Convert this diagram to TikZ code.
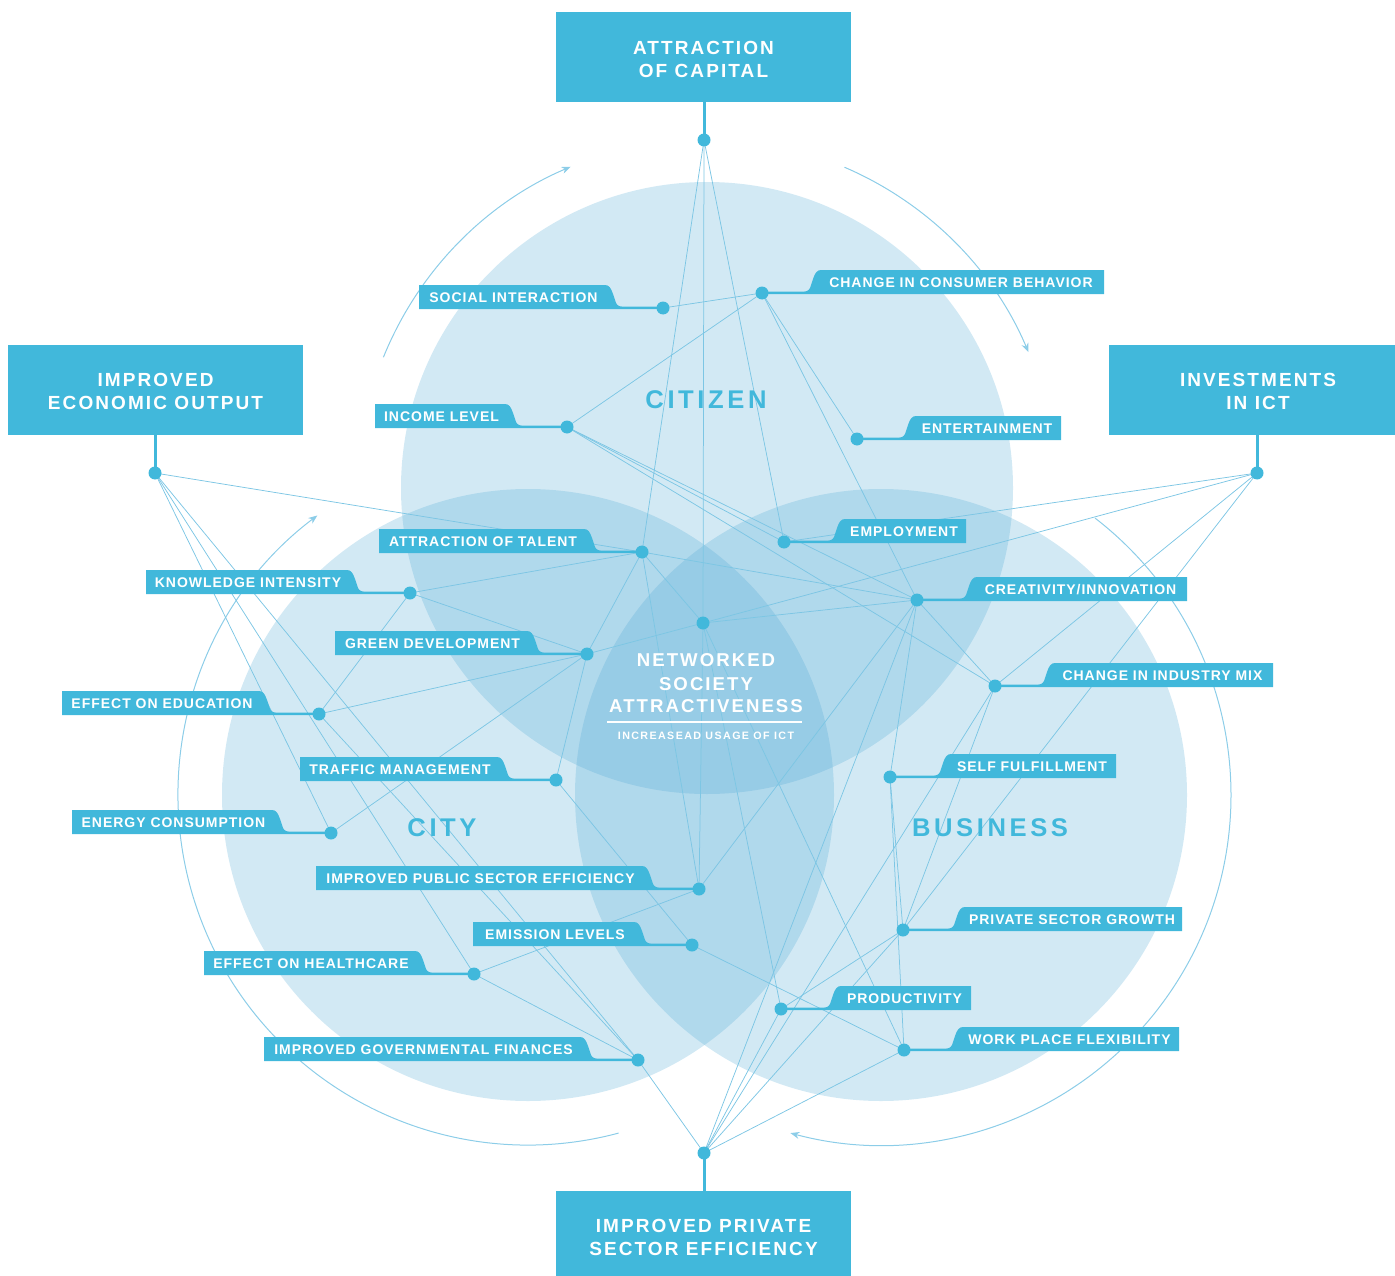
\documentclass[tikz,border=0pt]{standalone}
\usepackage{fontspec}
\setmainfont{Liberation Sans}
\newfontfamily\lblfont[LetterSpace=7]{Liberation Sans}
\newfontfamily\titlefont[LetterSpace=11]{Liberation Sans}
\newfontfamily\circfont[LetterSpace=14]{Liberation Sans}
\newfontfamily\smallfont[LetterSpace=13]{Liberation Sans}
\usetikzlibrary{arrows.meta}
\definecolor{boxblue}{RGB}{65,184,219}
\definecolor{circfill}{RGB}{71,165,210}
\definecolor{linec}{RGB}{125,198,228}
\definecolor{arcc}{RGB}{140,205,232}
\pgfdeclarelayer{back}
\pgfdeclarelayer{mid}
\pgfsetlayers{back,mid,main}
\tikzset{
  dot/.style={circle, fill=boxblue, inner sep=0pt, minimum size=13pt},
  edge/.style={draw=linec, line width=0.75pt},
  hubline/.style={draw=boxblue, line width=3pt},
  bigbox/.style={rectangle, fill=boxblue, inner sep=0pt, minimum width=295pt, minimum height=90pt},
  bigtext/.style={text=white, font=\titlefont\bfseries\fontsize{19}{22.3}\selectfont, align=center, inner sep=0pt},
  lbltext/.style={text=white, font=\lblfont\bfseries\fontsize{14}{16}\selectfont, inner sep=0pt, anchor=base},
  circlbl/.style={text=boxblue, font=\circfont\bfseries\fontsize{25.6}{28}\selectfont, inner sep=0pt, anchor=base},
  ctext/.style={text=white, font=\titlefont\bfseries\fontsize{18.6}{22}\selectfont, inner sep=0pt, anchor=base},
  csmall/.style={text=white, font=\smallfont\bfseries\fontsize{10.7}{12}\selectfont, inner sep=0pt, anchor=base},
  arcline/.style={draw=arcc, line width=1pt, -{Stealth[length=9pt,width=7pt]}},
  circ/.style={fill=circfill, fill opacity=0.244},
}
% left label: name, x1, x2 (slant start), y1, dot x, text
\newcommand\Llab[6]{%
  \fill[boxblue] (#2,#4) -- ({#3-3},#4) .. controls ({#3+1},#4) and ({#3+3},{#4+3}) .. ({#3+5},{#4+9}) -- ({#3+8},{#4+18}) .. controls ({#3+10},{#4+21.6}) and ({#3+12},{#4+21.6}) .. ({#3+17},{#4+21.6}) -- (#5,{#4+21.6}) -- (#5,{#4+24}) -- (#2,{#4+24}) -- cycle;
  \node[lbltext] (#1t) at ({(#2+#3)/2},{#4+17.7}) {#6};
  \node[dot] (#1) at (#5,{#4+23}) {};
}
% right label: name, xs (slant start), xr (right edge), y1, dot x, text
\newcommand\Rlab[6]{%
  \fill[boxblue] (#3,#4) -- ({#2+3},#4) .. controls ({#2-1},#4) and ({#2-3},{#4+3}) .. ({#2-5},{#4+9}) -- ({#2-8},{#4+18}) .. controls ({#2-10},{#4+21.6}) and ({#2-12},{#4+21.6}) .. ({#2-17},{#4+21.6}) -- (#5,{#4+21.6}) -- (#5,{#4+24}) -- (#3,{#4+24}) -- cycle;
  \node[lbltext] (#1t) at ({(#2+#3)/2},{#4+17.7}) {#6};
  \node[dot] (#1) at (#5,{#4+23}) {};
}
\begin{document}
\begin{tikzpicture}[x=1pt,y=-1pt]
\useasboundingbox (0,0) rectangle (1395,1276);
\coordinate (citc) at (707,488);
\coordinate (cityc) at (528,795);
\coordinate (busc) at (881,795);
\begin{pgfonlayer}{back}
  \fill[circ] (citc) circle[radius=306];
  \fill[circ] (cityc) circle[radius=306];
  \fill[circ] (busc) circle[radius=306];
  \draw[arcline] ([shift={(-158:349)}]citc) arc[start angle=-158, end angle=-113, radius=349];
  \draw[arcline] ([shift={(-66.8:349)}]citc) arc[start angle=-66.8, end angle=-22.9, radius=349];
  \draw[arcline] ([shift={(-52.3:350)}]busc) arc[start angle=-52.3, end angle=105, radius=350];
  \draw[arcline] ([shift={(75:350)}]cityc) arc[start angle=75, end angle=233, radius=350];
\end{pgfonlayer}

% big boxes
\node[bigbox] (capital) at (703.5,57) {};
\node[bigtext] (capitalt) at (703.5,59.6) {ATTRACTION\\OF CAPITAL};
\node[bigbox] (economic) at (155.5,390) {};
\node[bigtext] (economict) at (155.5,391.5) {IMPROVED\\ECONOMIC OUTPUT};
\node[bigbox, minimum width=286pt] (ict) at (1252,390) {};
\node[bigtext] (ictt) at (1258,391.5) {INVESTMENTS\\IN ICT};
\node[bigbox] (privbox) at (703.5,1236) {};
\node[bigtext] (privboxt) at (703.5,1237.5) {IMPROVED PRIVATE\\SECTOR EFFICIENCY};

% hub dots
\node[dot] (hT) at (704,140) {};
\node[dot] (hL) at (155,473) {};
\node[dot] (hR) at (1257,473) {};
\node[dot] (hB) at (704,1153) {};
\node[dot] (cen) at (703,623) {};
\draw[hubline] (hT.center) -- (hT |- capital.south);
\draw[hubline] (hL.center) -- (hL |- economic.south);
\draw[hubline] (hR.center) -- (hR |- ict.south);
\draw[hubline] (hB.center) -- (hB |- privbox.north);

% circle titles
\node[circlbl] (citizen) at (706,408.3) {CITIZEN};
\node[circlbl] (city) at (442,836.2) {CITY};
\node[circlbl] (business) at (990,836.2) {BUSINESS};

% centre text
\node[ctext] (n1) at (706,666.7) {NETWORKED};
\node[ctext] (n2) at (706,690) {SOCIETY};
\node[ctext] (n3) at (706,712.7) {ATTRACTIVENESS};
\fill[white] (607,720.6) rectangle (802,722.8);
\node[csmall] (n4) at (706,739.3) {INCREASEAD USAGE OF ICT};

% labels with dot on the right
\Llab{social}{419}{608}{285}{663}{SOCIAL INTERACTION}
\Llab{income}{375}{508}{404}{567}{INCOME LEVEL}
\Llab{talent}{379}{587}{529}{642}{ATTRACTION OF TALENT}
\Llab{knowledge}{146}{350}{570}{410}{KNOWLEDGE INTENSITY}
\Llab{green}{335}{530}{631}{587}{GREEN DEVELOPMENT}
\Llab{education}{62}{262}{691}{319}{EFFECT ON EDUCATION}
\Llab{traffic}{300}{500}{757}{556}{TRAFFIC MANAGEMENT}
\Llab{energy}{72}{275}{810}{331}{ENERGY CONSUMPTION}
\Llab{public}{316}{645}{866}{699}{IMPROVED PUBLIC SECTOR EFFICIENCY}
\Llab{emission}{473}{637}{922}{692}{EMISSION LEVELS}
\Llab{health}{204}{418}{951}{474}{EFFECT ON HEALTHCARE}
\Llab{gov}{264}{583}{1037}{638}{IMPROVED GOVERNMENTAL FINANCES}

% labels with dot on the left
\Rlab{consumer}{818}{1104}{270}{762}{CHANGE IN CONSUMER BEHAVIOR}
\Rlab{entertain}{913}{1061}{416}{857}{ENTERTAINMENT}
\Rlab{employ}{842}{966}{519}{784}{EMPLOYMENT}
\Rlab{creativity}{974}{1187}{577}{917}{CREATIVITY/INNOVATION}
\Rlab{industry}{1052}{1273}{663}{995}{CHANGE IN INDUSTRY MIX}
\Rlab{selff}{948}{1116}{754}{890}{SELF FULFILLMENT}
\Rlab{privg}{962}{1182}{907}{903}{PRIVATE SECTOR GROWTH}
\Rlab{product}{838}{971}{986}{781}{PRODUCTIVITY}
\Rlab{work}{960}{1179}{1027}{904}{WORK PLACE FLEXIBILITY}

\begin{pgfonlayer}{mid}
\foreach \a/\b in {hT/talent, hT/cen, hT/employ,
  hL/talent, hL/energy, hL/health, hL/gov,
  hR/employ, hR/cen, hR/industry, hR/privg,
  hB/gov, hB/creativity, hB/product, hB/industry, hB/privg, hB/work,
  social/consumer, consumer/income, consumer/entertain, consumer/creativity,
  income/employ, income/creativity, income/industry,
  talent/creativity, talent/knowledge, talent/green, talent/cen, talent/public,
  knowledge/green, knowledge/education,
  green/cen, green/education, green/energy, green/traffic,
  education/gov, traffic/emission, emission/work,
  health/public, health/gov,
  public/cen, public/creativity,
  cen/creativity, cen/product, cen/work,
  creativity/industry, creativity/selff,
  industry/privg, selff/privg, selff/work, product/privg}
  \draw[edge] (\a.center) -- (\b.center);
\end{pgfonlayer}
\end{tikzpicture}
\end{document}
